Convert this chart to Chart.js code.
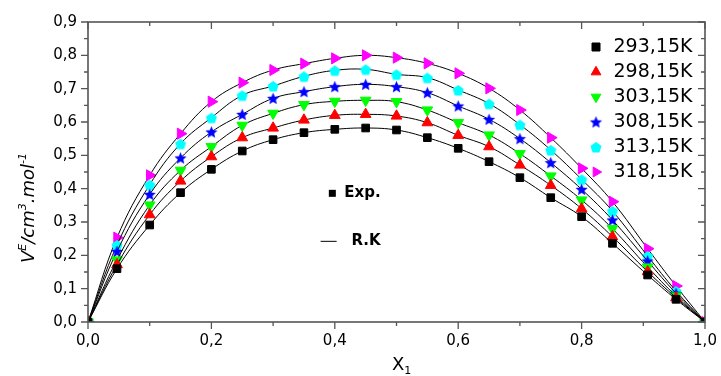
<!DOCTYPE html>
<html><head><meta charset="utf-8">
<script src="https://cdn.jsdelivr.net/npm/chart.js@4.4.1/dist/chart.umd.min.js"></script>
<style>html,body{margin:0;padding:0;background:#fff;}#wrap{width:721px;height:376px;}</style>
</head><body><div id="wrap"><canvas id="c" width="721" height="376"></canvas></div>
<script>
// ---- data ----
const xFractions = [0, 0.047, 0.1, 0.15, 0.2, 0.25, 0.3, 0.35, 0.4, 0.45, 0.5, 0.55, 0.6, 0.65, 0.7, 0.75, 0.8, 0.85, 0.907, 0.953, 1];
const temperatures = ['293,15K', '298,15K', '303,15K', '308,15K', '313,15K', '318,15K'];
const vE293 = [0, 0.160, 0.291, 0.388, 0.458, 0.513, 0.547, 0.568, 0.578, 0.582, 0.576, 0.553, 0.521, 0.481, 0.433, 0.373, 0.316, 0.236, 0.141, 0.068, 0];
const vE298 = [0, 0.172, 0.322, 0.423, 0.496, 0.553, 0.582, 0.606, 0.620, 0.623, 0.618, 0.598, 0.560, 0.526, 0.471, 0.410, 0.340, 0.256, 0.151, 0.073, 0];
const vE303 = [0, 0.186, 0.351, 0.455, 0.526, 0.590, 0.626, 0.652, 0.662, 0.665, 0.661, 0.636, 0.598, 0.561, 0.505, 0.438, 0.366, 0.280, 0.165, 0.078, 0];
const vE308 = [0, 0.212, 0.383, 0.492, 0.570, 0.623, 0.671, 0.691, 0.706, 0.713, 0.706, 0.688, 0.648, 0.608, 0.550, 0.478, 0.398, 0.306, 0.183, 0.086, 0];
const vE313 = [0, 0.231, 0.412, 0.535, 0.613, 0.680, 0.708, 0.737, 0.755, 0.758, 0.743, 0.733, 0.696, 0.655, 0.592, 0.516, 0.428, 0.333, 0.198, 0.093, 0];
const vE318 = [0, 0.253, 0.440, 0.565, 0.661, 0.718, 0.756, 0.775, 0.791, 0.800, 0.793, 0.776, 0.746, 0.701, 0.636, 0.553, 0.461, 0.361, 0.220, 0.108, 0];
const xTickLabels = ['0,0', '0,2', '0,4', '0,6', '0,8', '1,0'];
const yTickLabels = ['0,0', '0,1', '0,2', '0,3', '0,4', '0,5', '0,6', '0,7', '0,8', '0,9'];
const noteLabels = ['Exp.', 'R.K'];
const yTitleParts = ['V', 'E', '/cm', '3', '.mol', '-1'];
const xTitleParts = ['X', '1'];

// ---- styling ----
const FONT = "'DejaVu Sans', 'Liberation Sans', Arial, sans-serif";
const AXIS = '#555';

function makeStar(color, r) {
  const s = Math.ceil(r * 2 + 2), c = document.createElement('canvas');
  c.width = s; c.height = s;
  const g = c.getContext('2d'); g.fillStyle = color; g.beginPath();
  for (let i = 0; i < 10; i++) {
    const rr = i % 2 ? r * 0.45 : r, a = -Math.PI / 2 + i * Math.PI / 5;
    const px = s / 2 + rr * Math.cos(a), py = s / 2 + 0.6 + rr * Math.sin(a);
    i ? g.lineTo(px, py) : g.moveTo(px, py);
  }
  g.closePath(); g.fill(); return c;
}
function makePentagon(color, r) {
  const s = Math.ceil(r * 2 + 2), c = document.createElement('canvas');
  c.width = s; c.height = s;
  const g = c.getContext('2d'); g.fillStyle = color; g.beginPath();
  for (let i = 0; i < 5; i++) {
    const a = -Math.PI / 2 + i * 2 * Math.PI / 5;
    const px = s / 2 + r * Math.cos(a), py = s / 2 + 0.8 + r * Math.sin(a);
    i ? g.lineTo(px, py) : g.moveTo(px, py);
  }
  g.closePath(); g.fill(); return c;
}

const seriesValues = [vE293, vE298, vE303, vE308, vE313, vE318];
const seriesStyle = [
  { color: '#000000', style: 'rect', rot: 0, r: 5.4 },
  { color: '#ff0000', style: 'triangle', rot: 0, r: 6.2 },
  { color: '#00ff00', style: 'triangle', rot: 180, r: 6.2 },
  { color: '#0000ff', style: makeStar('#0000ff', 6.4), rot: 0, r: 6 },
  { color: '#00ffff', style: makePentagon('#00ffff', 5.8), rot: 0, r: 6 },
  { color: '#ff00ff', style: 'triangle', rot: 90, r: 6.4 }
];

const datasets = seriesValues.map((vals, k) => ({
  label: temperatures[k],
  data: xFractions.map((x, i) => ({ x: x, y: vals[i] })),
  showLine: true,
  borderColor: '#000',
  borderWidth: 1,
  tension: 0.4,
  fill: false,
  pointStyle: seriesStyle[k].style,
  pointRotation: seriesStyle[k].rot,
  pointRadius: seriesStyle[k].r,
  pointBackgroundColor: seriesStyle[k].color,
  pointBorderColor: seriesStyle[k].color,
  pointBorderWidth: 1
}));

function drawParts(ctx, parts, sizes, rises, italic, x, y) {
  let cx = x;
  parts.forEach((t, i) => {
    ctx.font = (italic ? 'italic ' : '') + sizes[i] + 'px ' + FONT;
    ctx.fillText(t, cx, y - rises[i]);
    cx += ctx.measureText(t).width;
  });
}

const framePlugin = {
  id: 'frame',
  afterUpdate(chart) {
    const lg = chart.legend, ca = chart.chartArea;
    if (!lg) return;
    lg.left = ca.right - 123; lg.right = ca.right;
    lg.top = ca.top + 9.5; lg.bottom = ca.bottom;
  },
  afterDraw(chart) {
    const ctx = chart.ctx, ca = chart.chartArea, xs = chart.scales.x, ys = chart.scales.y;
    ctx.save();
    ctx.strokeStyle = AXIS; ctx.lineWidth = 1.6;
    ctx.strokeRect(ca.left, ca.top, ca.right - ca.left, ca.bottom - ca.top);
    ctx.lineWidth = 1.3;
    const tickLines = (scale, horizontal) => {
      const vals = scale.ticks.map(t => t.value);
      const all = [];
      vals.forEach((v, i) => { all.push([v, true]); if (i < vals.length - 1) all.push([(v + vals[i + 1]) / 2, false]); });
      all.forEach(([v, major]) => {
        const p = scale.getPixelForValue(v), len = major ? 7 : 4;
        ctx.beginPath();
        if (horizontal) {
          ctx.moveTo(p, ca.bottom); ctx.lineTo(p, ca.bottom + len);
          ctx.moveTo(p, ca.top); ctx.lineTo(p, ca.top + len);
        } else {
          ctx.moveTo(ca.left, p); ctx.lineTo(ca.left - len, p);
          ctx.moveTo(ca.right, p); ctx.lineTo(ca.right - len, p);
        }
        ctx.stroke();
      });
    };
    tickLines(xs, true); tickLines(ys, false);

    // annotations Exp. / R.K
    ctx.fillStyle = '#000'; ctx.strokeStyle = '#000';
    const ex = xs.getPixelForValue(0.396), ey = ys.getPixelForValue(0.386);
    ctx.fillRect(ex - 3.5, ey - 3.5, 7, 7);
    ctx.font = 'bold 15px ' + FONT; ctx.textBaseline = 'middle'; ctx.textAlign = 'left';
    ctx.fillText(noteLabels[0], ex + 12, ey);
    const rx1 = xs.getPixelForValue(0.377), rx2 = xs.getPixelForValue(0.403), ry = ys.getPixelForValue(0.242);
    ctx.lineWidth = 1; ctx.beginPath(); ctx.moveTo(rx1, ry); ctx.lineTo(rx2, ry); ctx.stroke();
    ctx.fillText(noteLabels[1], xs.getPixelForValue(0.427), ry);

    // axis titles
    ctx.textBaseline = 'alphabetic';
    ctx.save();
    ctx.translate(34, 263); ctx.rotate(-Math.PI / 2);
    drawParts(ctx, yTitleParts, [18, 11, 18, 11, 18, 11], [0, 8, 0, 8, 0, 8], true, 0, 0);
    ctx.restore();
    drawParts(ctx, xTitleParts, [18, 11], [0, -4], false, 392, 370);
    ctx.restore();
  }
};

new Chart(document.getElementById('c'), {
  type: 'scatter',
  data: { datasets: datasets },
  options: {
    responsive: false,
    animation: false,
    events: [],
    layout: { padding: { left: 0, top: 22, right: 16, bottom: 0 } },
    scales: {
      x: {
        type: 'linear', min: 0, max: 1,
        grid: { display: false, drawTicks: false },
        border: { display: false },
        ticks: { stepSize: 0.2, maxRotation: 0, autoSkip: false, padding: 10, color: '#000',
          font: { family: FONT, size: 15 }, callback: (v, i) => xTickLabels[i] },
        afterFit: s => { s.height = 54; s.paddingLeft = 0; s.paddingRight = 0; }
      },
      y: {
        type: 'linear', min: 0, max: 0.9,
        grid: { display: false, drawTicks: false },
        border: { display: false },
        ticks: { stepSize: 0.1, autoSkip: false, padding: 11, color: '#000',
          font: { family: FONT, size: 15 }, callback: (v, i) => yTickLabels[i] },
        afterFit: s => { s.width = 88; s.paddingTop = 0; s.paddingBottom = 0; }
      }
    },
    plugins: {
      tooltip: { enabled: false },
      legend: {
        position: 'chartArea', align: 'start',
        labels: { usePointStyle: true, boxWidth: 16, boxHeight: 8, padding: 6, color: '#000',
          font: { family: FONT, size: 19 } }
      }
    }
  },
  plugins: [framePlugin]
});
</script></body></html>
